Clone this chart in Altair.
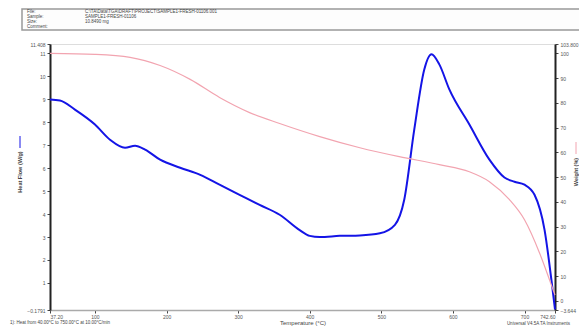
import altair as alt
import pandas as pd

# ---- data ----
temp_hf = [37.2, 51, 72, 100, 121, 142, 156, 170, 191, 219, 247, 274, 302, 330, 358,
           386, 400, 414, 442, 470, 498, 519, 532, 546, 560, 570, 581, 595, 623, 651,
           672, 686, 700, 714, 728, 737.6, 742.6]
heat_flow = [8.99, 8.95, 8.55, 7.90, 7.24, 6.89, 6.98, 6.81, 6.37, 6.02, 5.71, 5.28, 4.84,
             4.40, 3.97, 3.30, 3.05, 3.00, 3.05, 3.07, 3.16, 3.53, 4.62, 7.68, 10.30, 10.96,
             10.52, 9.43, 7.90, 6.37, 5.59, 5.41, 5.28, 4.84, 3.31, 1.13, -0.15]

temp_wt = [37.2, 100, 149, 191, 233, 274, 316, 358, 414, 470, 525, 581, 623, 651, 679,
           700, 721, 735, 742.6]
weight_pct = [100.0, 99.6, 98.4, 95.1, 89.5, 82.2, 76.1, 71.7, 66.4, 61.9, 58.3, 55.1,
              52.2, 48.2, 40.9, 32.8, 19.4, 8.5, 2.4]

x_ticks = [37.2, 100, 200, 300, 400, 500, 600, 700, 742.6]
left_ticks = [-0.1791, 1, 2, 3, 4, 5, 6, 7, 8, 9, 10, 11, 11.408]
right_ticks = [-3.644, 0, 10, 20, 30, 40, 50, 60, 70, 80, 90, 100, 103.80]

header_labels = ["File:", "Sample:", "Size:", "Comment:"]
header_values = ["C:\\TA\\Data\\TGA\\DRAFT\\PROJECT\\SAMPLE1-FRESH-01106.001",
                 "SAMPLE1-FRESH-01106", "10.8490 mg", ""]

FONT = "Liberation Sans"
BLUE = "#1414e6"
PINK = "#f2a4b0"

hf_df = pd.DataFrame({"T": temp_hf, "hf": heat_flow})
wt_df = pd.DataFrame({"T": temp_wt, "wt": weight_pct})

xscale = alt.Scale(domain=[37.2, 742.6], nice=False, zero=False)
xaxis = alt.Axis(values=x_ticks, title="Temperature (°C)",
                 labelExpr="(datum.value < 40 || datum.value > 740) ? format(datum.value, '.2f') : format(datum.value, 'd')",
                 domainColor="#aaaaaa", domainWidth=1.5, tickColor="#444", tickSize=3,
                 labelFontSize=5, labelColor="#555", titleFontSize=6, titleColor="#444",
                 titleFontWeight="normal", titlePadding=0, labelPadding=1, grid=False,
                 labelFont=FONT, titleFont=FONT)

blue = alt.Chart(hf_df).mark_line(color=BLUE, strokeWidth=2, interpolate="monotone").encode(
    x=alt.X("T:Q", scale=xscale, axis=xaxis),
    y=alt.Y("hf:Q", scale=alt.Scale(domain=[-0.1791, 11.408], nice=False, zero=False),
            axis=alt.Axis(orient="left", values=left_ticks, title=None, grid=False,
                          labelExpr="abs(datum.value - round(datum.value)) > 0.001 ? format(datum.value, '.4~f') : format(datum.value, 'd')",
                          domainColor="#222", domainWidth=2, tickColor="#444", tickSize=3,
                          labelFontSize=5, labelColor="#555", labelPadding=2, labelFont=FONT)),
)

pink = alt.Chart(wt_df).mark_line(color=PINK, strokeWidth=1.2, interpolate="monotone").encode(
    x=alt.X("T:Q", scale=xscale, axis=xaxis),
    y=alt.Y("wt:Q", scale=alt.Scale(domain=[-3.644, 103.80], nice=False, zero=False),
            axis=alt.Axis(orient="right", values=right_ticks, title=None, grid=False,
                          labelExpr="abs(datum.value - round(datum.value)) > 0.001 ? format(datum.value, '.3f') : format(datum.value, 'd')",
                          domainColor="#222", domainWidth=2, tickColor="#444", tickSize=3,
                          labelFontSize=5, labelColor="#555", labelPadding=2, labelFont=FONT)),
)

one = pd.DataFrame({"a": [0]})

def txt(s, x, y, size=5, angle=0, align="left", color="#444", weight="normal"):
    return alt.Chart(one).mark_text(text=s, fontSize=size, angle=angle, align=align,
                                    baseline="middle", color=color, font=FONT,
                                    fontWeight=weight).encode(
        x=alt.value(x), y=alt.value(y))

box = alt.Chart(one).mark_rect(fill="#fdfdfd", stroke="#999", strokeWidth=1.5).encode(
    x=alt.value(-28), x2=alt.value(533), y=alt.value(-35), y2=alt.value(-14))

layers = [box]
for i, (lab, val) in enumerate(zip(header_labels, header_values)):
    yy = -32 + i * 5
    layers.append(txt(lab, -23, yy, size=4.5))
    if val:
        layers.append(txt(val, 35, yy, size=4.5))

# axis titles with colour markers
layers.append(txt("Heat Flow (W/g)", -30, 128, size=5.5, angle=270, align="center", weight="bold"))
layers.append(alt.Chart(one).mark_rule(color=BLUE, strokeWidth=1).encode(
    x=alt.value(-30), y=alt.value(92), y2=alt.value(104)))
layers.append(txt("Weight (%)", 526, 128, size=5.5, angle=270, align="center", weight="bold"))
layers.append(alt.Chart(one).mark_rule(color=PINK, strokeWidth=1).encode(
    x=alt.value(526), y=alt.value(98), y2=alt.value(110)))

layers.append(txt("1): Heat from 40.00°C to 750.00°C at 10.00°C/min", -40, 279, size=4.5))
layers.append(txt("Universal V4.5A TA Instruments", 520, 280, size=4.5, align="right"))

chart = alt.layer(blue, pink, *layers).resolve_scale(y="independent").properties(
    width=505, height=266,
    autosize=alt.AutoSizeParams(type="none"),
    padding={"left": 42, "top": 36, "right": 24, "bottom": 18},
).configure_view(stroke=None).configure(background="white")

chart.save("out.html", embed_options={"renderer": "svg", "actions": False})
